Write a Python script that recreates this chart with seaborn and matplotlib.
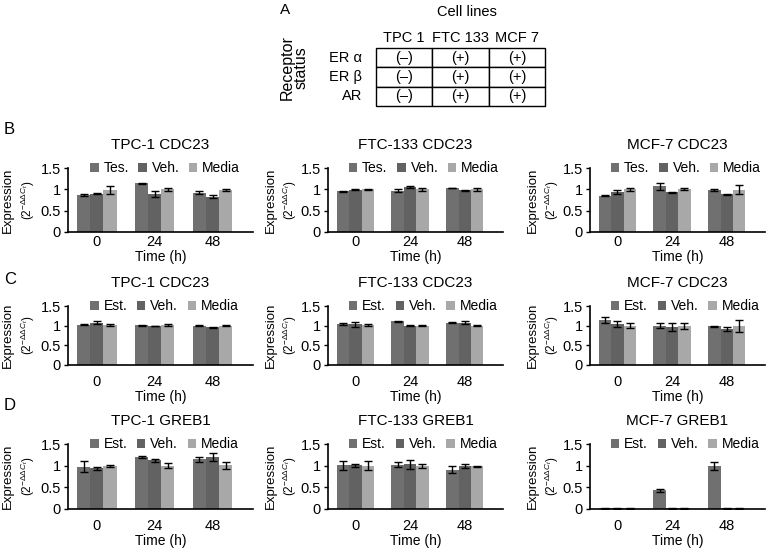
import pandas as pd
import seaborn as sns
import matplotlib.pyplot as plt

# ---- data ----
times = ["0", "24", "48"]
treat_tes = ["Tes.", "Veh.", "Media"]
treat_est = ["Est.", "Veh.", "Media"]
bar_colors = ["#707070", "#626262", "#a8a8a8"]

cell_lines = ["TPC 1", "FTC 133", "MCF 7"]
receptors = ["ER α", "ER β", "AR"]
receptor_status = [["(–)", "(+)", "(+)"],
                   ["(–)", "(+)", "(+)"],
                   ["(–)", "(+)", "(+)"]]

# rows = treatment (Tes./Est., Veh., Media), columns = time 0, 24, 48 h
b_tpc1_mean = [[0.86, 1.14, 0.92], [0.90, 0.90, 0.83], [0.99, 1.00, 0.99]]
b_tpc1_err = [[0.02, 0.01, 0.03], [0.02, 0.07, 0.04], [0.09, 0.03, 0.02]]
b_ftc133_mean = [[0.95, 0.97, 1.03], [0.99, 1.05, 0.98], [1.00, 1.00, 1.00]]
b_ftc133_err = [[0.02, 0.03, 0.01], [0.01, 0.02, 0.01], [0.01, 0.03, 0.03]]
b_mcf7_mean = [[0.85, 1.07, 0.98], [0.93, 0.93, 0.88], [1.00, 1.00, 0.99]]
b_mcf7_err = [[0.01, 0.09, 0.03], [0.05, 0.01, 0.01], [0.03, 0.02, 0.11]]

c_tpc1_mean = [[1.02, 1.01, 1.00], [1.08, 0.99, 0.96], [1.01, 1.01, 1.00]]
c_tpc1_err = [[0.01, 0.01, 0.01], [0.05, 0.01, 0.01], [0.02, 0.03, 0.01]]
c_ftc133_mean = [[1.04, 1.11, 1.08], [1.03, 1.00, 1.08], [1.01, 1.00, 1.00]]
c_ftc133_err = [[0.02, 0.01, 0.01], [0.06, 0.01, 0.04], [0.03, 0.02, 0.02]]
c_mcf7_mean = [[1.15, 1.00, 0.98], [1.04, 0.96, 0.91], [1.00, 0.99, 0.99]]
c_mcf7_err = [[0.08, 0.07, 0.02], [0.08, 0.10, 0.05], [0.06, 0.08, 0.15]]

d_tpc1_mean = [[0.98, 1.20, 1.15], [0.94, 1.12, 1.20], [0.99, 1.00, 1.01]]
d_tpc1_err = [[0.12, 0.03, 0.06], [0.04, 0.04, 0.09], [0.03, 0.06, 0.08]]
d_ftc133_mean = [[1.01, 1.02, 0.91], [1.01, 1.03, 1.00], [1.00, 0.99, 0.99]]
d_ftc133_err = [[0.10, 0.06, 0.08], [0.04, 0.10, 0.05], [0.10, 0.04, 0.01]]
d_mcf7_mean = [[0.015, 0.43, 1.00], [0.015, 0.015, 0.015], [0.015, 0.015, 0.015]]
d_mcf7_err = [[0.005, 0.03, 0.09], [0.005, 0.005, 0.005], [0.005, 0.005, 0.005]]

panels = [
    [("TPC-1 CDC23", treat_tes, b_tpc1_mean, b_tpc1_err),
     ("FTC-133 CDC23", treat_tes, b_ftc133_mean, b_ftc133_err),
     ("MCF-7 CDC23", treat_tes, b_mcf7_mean, b_mcf7_err)],
    [("TPC-1 CDC23", treat_est, c_tpc1_mean, c_tpc1_err),
     ("FTC-133 CDC23", treat_est, c_ftc133_mean, c_ftc133_err),
     ("MCF-7 CDC23", treat_est, c_mcf7_mean, c_mcf7_err)],
    [("TPC-1 GREB1", treat_est, d_tpc1_mean, d_tpc1_err),
     ("FTC-133 GREB1", treat_est, d_ftc133_mean, d_ftc133_err),
     ("MCF-7 GREB1", treat_est, d_mcf7_mean, d_mcf7_err)],
]
row_letters = ["B", "C", "D"]

sns.set_style("ticks")
plt.rcParams["font.family"] = ["Liberation Sans", "DejaVu Sans"]
plt.rcParams["mathtext.fontset"] = "custom"
plt.rcParams["mathtext.rm"] = "Liberation Sans"
plt.rcParams["mathtext.it"] = "Liberation Sans:italic"
for key in ["text.color", "axes.labelcolor", "xtick.color", "ytick.color", "axes.edgecolor"]:
    plt.rcParams[key] = "black"

W, H = 772, 548
fig = plt.figure(figsize=(W / 100, H / 100), dpi=100)

# pixel boxes of the axes (left, right) and (top, bottom)
col_px = [(68, 253), (328, 503), (590, 765)]
row_px = [(168, 232), (306, 365), (444, 509)]
tick_pad = [2, 7, 7]


def px_box(x0, x1, y0, y1):
    return [x0 / W, 1 - y1 / H, (x1 - x0) / W, (y1 - y0) / H]


for r, row in enumerate(panels):
    for c, (title, treats, mean, err) in enumerate(row):
        ax = fig.add_axes(px_box(col_px[c][0], col_px[c][1], row_px[r][0], row_px[r][1]))
        records = []
        for ti, t in enumerate(treats):
            for ji, tm in enumerate(times):
                records.append({"time": tm, "treatment": t, "value": mean[ti][ji]})
        df = pd.DataFrame(records)
        sns.barplot(data=df, x="time", y="value", hue="treatment", order=times,
                    hue_order=treats, palette=bar_colors, saturation=1,
                    width=0.68, errorbar=None, linewidth=0, ax=ax)
        for container, errs in zip(ax.containers, err):
            xs = [b.get_x() + b.get_width() / 2 for b in container]
            hs = [b.get_height() for b in container]
            ax.errorbar(xs, hs, yerr=errs, fmt="none", ecolor="black",
                        elinewidth=1, capsize=3, capthick=1)
        ax.set_ylim(0, 1.5)
        ax.set_xlim(-0.5, 2.7)
        ax.set_yticks([0, 0.5, 1, 1.5])
        ax.set_yticklabels(["0", "0.5", "1", "1.5"])
        ax.tick_params(axis="y", labelsize=10.5, length=3, width=1, pad=2)
        ax.tick_params(axis="x", labelsize=10.5, length=0, pad=tick_pad[r])
        for s in ["left", "bottom"]:
            ax.spines[s].set_linewidth(1.2)
        sns.despine(ax=ax)
        ax.set_xlabel("Time (h)", fontsize=10, labelpad=1)
        ax.set_ylabel("Expression", fontsize=9.5)
        ax.yaxis.set_label_coords(-0.295, 0.5)
        ax.text(-0.215, 0.5, r"(2$^{-\Delta\Delta C_t}$)", transform=ax.transAxes,
                rotation=90, ha="center", va="center", fontsize=8.5)
        ax.set_title(title, fontsize=11, pad=14)
        handles, labels = ax.get_legend_handles_labels()
        ax.legend(handles, labels, ncol=3, loc="center left",
                  bbox_to_anchor=(0.12, 1.0), frameon=False, fontsize=10,
                  handlelength=0.6, handleheight=0.6, handletextpad=0.35,
                  columnspacing=0.7, borderpad=0, borderaxespad=0)
    fig.text(4 / W, 1 - [130, 280, 405][r] / H, row_letters[r], fontsize=12,
             ha="left", va="center")

# ---- panel A: receptor status table ----
tab = fig.add_axes(px_box(376, 545, 48, 106))
tab.axis("off")
tbl = tab.table(cellText=receptor_status, cellLoc="center", bbox=[0, 0, 1, 1])
tbl.auto_set_font_size(False)
tbl.set_fontsize(10.5)
for cell in tbl.get_celld().values():
    cell.set_linewidth(1)
for i, name in enumerate(cell_lines):
    tab.text((i + 0.5) / 3, 1.17, name, transform=tab.transAxes,
             ha="center", va="center", fontsize=10.5)
for i, name in enumerate(receptors):
    tab.text(-0.08, 1 - (i + 0.5) / 3, name, transform=tab.transAxes,
             ha="right", va="center", fontsize=10.5)
fig.text(294 / W, 1 - 68 / H, "Receptor\nstatus", rotation=90, ha="center",
         va="center", fontsize=11.5, linespacing=0.95)
fig.text(467 / W, 1 - 12 / H, "Cell lines", ha="center", va="center", fontsize=10.5)
fig.text(285 / W, 1 - 10 / H, "A", ha="center", va="center", fontsize=11)

fig.savefig("out.png", dpi=100)
